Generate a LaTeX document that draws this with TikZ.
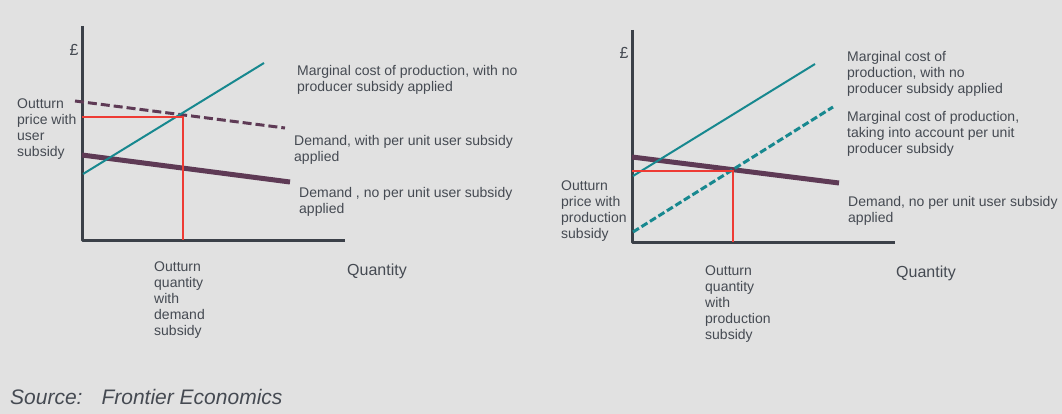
\documentclass[tikz,border=0pt]{standalone}
\usepackage{fontspec}
\setmainfont{Liberation Sans}
\usepackage{xcolor}
\usepackage{tikz}
\definecolor{bggray}{HTML}{E1E1E1}
\definecolor{axisgray}{HTML}{3B4048}
\definecolor{mcteal}{HTML}{17888F}
\definecolor{dempurple}{HTML}{5E3A55}
\definecolor{outred}{HTML}{EE3B34}
\definecolor{textgray}{HTML}{454A52}

\begin{document}
\begin{tikzpicture}[x=1pt, y=-1pt,
    lbl/.style={anchor=north west, inner sep=0pt, align=left, text=textgray, font=\fontsize{14}{16}\selectfont},
    axisline/.style={draw=axisgray, line width=3pt, line join=round},
    mcline/.style={draw=mcteal, line width=2pt},
    mcdash/.style={draw=mcteal, line width=3pt, dash pattern=on 7pt off 3pt},
    demline/.style={draw=dempurple, line width=5pt},
    demdash/.style={draw=dempurple, line width=3pt, dash pattern=on 9pt off 4pt},
    redline/.style={draw=outred, line width=1.3pt}]

        \fill[bggray] (0,0) rectangle (1062,414);
        \useasboundingbox (0,0) rectangle (1062,414);

        % Left chart: demand subsidy
        \coordinate (ltop) at (82,26);
        \coordinate (lorig) at (82,240);
        \coordinate (lend) at (345,240);
        \coordinate (lmca) at (83,174);
        \coordinate (lmcb) at (264,63);
        \coordinate (ldsa) at (75,101);
        \coordinate (ldsb) at (285,128);
        \coordinate (ldema) at (82,155);
        \coordinate (ldemb) at (290,182);
        \coordinate (lpr) at (82,117);
        \coordinate (leq) at (183,117);
        \coordinate (lqty) at (183,240);

        \node (lpound) at (74,50) [text=textgray, font=\fontsize{16}{18}\selectfont] {£};
        \node (lprice) at (17,99) [lbl] {Outturn\\price with\\user\\subsidy};
        \node (lmclabel) at (297,65) [lbl] {Marginal cost of production, with no\\producer subsidy applied};
        \node (ldslabel) at (294,135) [lbl] {Demand, with per unit user subsidy\\applied};
        \node (ldemlabel) at (299,187) [lbl] {Demand , no per unit user subsidy\\applied};
        \node (lqtylabel) at (154,262) [lbl] {Outturn\\quantity\\with\\demand\\subsidy};
        \node (lquant) at (347,271) [anchor=west, inner sep=0pt, text=textgray, font=\fontsize{16}{18}\selectfont] {Quantity};

        \draw[axisline] (ltop) -- (lorig) -- (lend);
        \draw[demline] (ldema) -- (ldemb);
        \draw[demdash] (ldsa) -- (ldsb);
        \draw[mcline] (lmca) -- (lmcb);
        \draw[redline] (lpr) -- (leq) -- (lqty);

        % Right chart: production subsidy
        \coordinate (rtop) at (632,30);
        \coordinate (rorig) at (632,242);
        \coordinate (rend) at (895,242);
        \coordinate (rmca) at (633,176);
        \coordinate (rmcb) at (815,64);
        \coordinate (rmsa) at (633,232);
        \coordinate (rmsb) at (833,107);
        \coordinate (rdema) at (632,157);
        \coordinate (rdemb) at (839,183);
        \coordinate (rpr) at (632,171);
        \coordinate (req) at (733,171);
        \coordinate (rqty) at (733,242);

        \node (rpound) at (624,53) [text=textgray, font=\fontsize{16}{18}\selectfont] {£};
        \node (rprice) at (561,181) [lbl] {Outturn\\price with\\production\\subsidy};
        \node (rmclabel) at (847,51) [lbl] {Marginal cost of\\production, with no\\producer subsidy applied};
        \node (rmslabel) at (847,111) [lbl] {Marginal cost of production,\\taking into account per unit\\producer subsidy};
        \node (rdemlabel) at (848,196) [lbl] {Demand, no per unit user subsidy\\applied};
        \node (rqtylabel) at (705,266) [lbl] {Outturn\\quantity\\with\\production\\subsidy};
        \node (rquant) at (896,273) [anchor=west, inner sep=0pt, text=textgray, font=\fontsize{16}{18}\selectfont] {Quantity};

        \draw[axisline] (rtop) -- (rorig) -- (rend);
        \draw[demline] (rdema) -- (rdemb);
        \draw[mcline] (rmca) -- (rmcb);
        \draw[mcdash] (rmsa) -- (rmsb);
        \draw[redline, line width=2pt] (rpr) -- (req) -- (rqty);

        % Source
        \node (source) at (10,404) [anchor=base west, inner sep=0pt, text=textgray, font=\fontsize{21}{24}\selectfont\itshape] {Source:\hspace{19pt}Frontier Economics};

    \end{tikzpicture}
\end{document}
